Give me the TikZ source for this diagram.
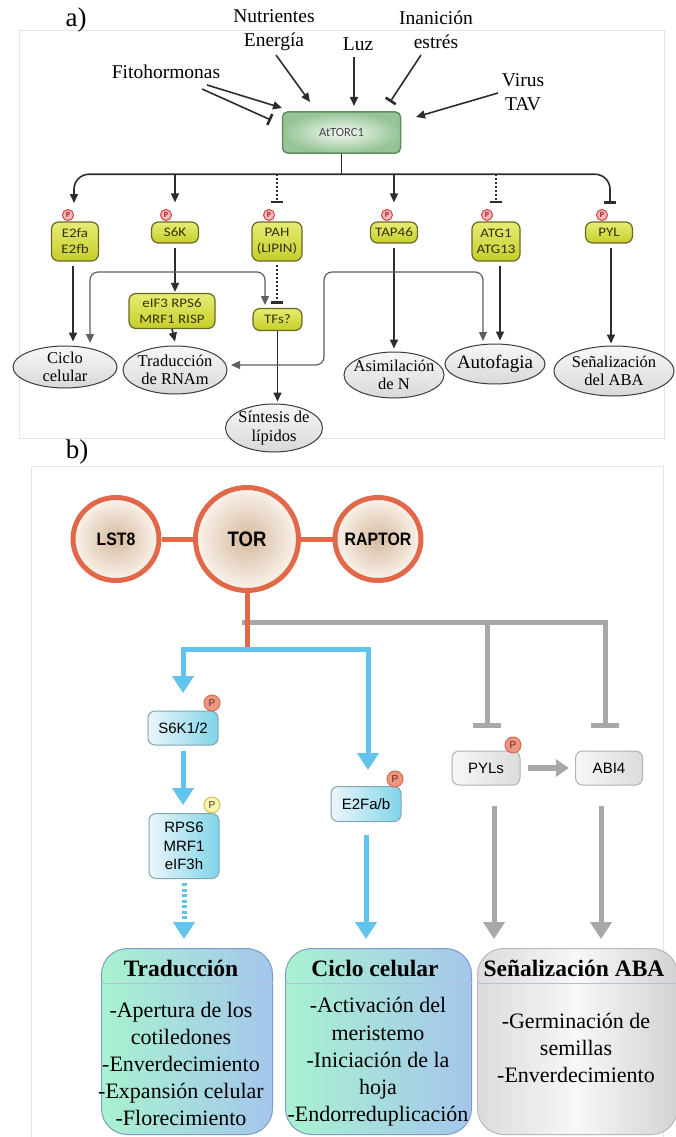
\documentclass[tikz,border=0pt]{standalone}
\usepackage{fontspec}
\setmainfont{Liberation Serif}
\setsansfont{Liberation Sans}
\newfontfamily\cali[FakeStretch=1.15]{Carlito}
\newfontfamily\calin{Carlito}
\newfontfamily\narsans[FakeStretch=0.88]{Liberation Sans}
\usetikzlibrary{arrows.meta,shapes.geometric}
\definecolor{dkc}{RGB}{45,45,45}
\definecolor{brc}{RGB}{95,95,95}
\definecolor{yd}{RGB}{105,105,35}
\definecolor{yl}{RGB}{230,236,115}
\definecolor{ym}{RGB}{198,206,42}
\definecolor{ytx}{RGB}{50,50,12}
\definecolor{pf}{RGB}{246,188,188}
\definecolor{pdc}{RGB}{212,64,64}
\definecolor{ptx}{RGB}{170,30,30}
\definecolor{ed}{RGB}{60,60,60}
\definecolor{tgd}{RGB}{95,145,95}
\definecolor{tgl}{RGB}{244,250,244}
\definecolor{tgo}{RGB}{150,196,150}
\definecolor{ttx}{RGB}{70,70,70}
\definecolor{orc}{RGB}{226,104,74}
\definecolor{bei}{RGB}{214,186,158}
\definecolor{beo}{RGB}{250,243,236}
\definecolor{gyl}{RGB}{168,168,168}
\definecolor{blc}{RGB}{98,196,236}
\definecolor{bbl}{RGB}{236,246,250}
\definecolor{bbr}{RGB}{128,212,232}
\definecolor{bbd}{RGB}{130,165,175}
\definecolor{cpf}{RGB}{238,150,128}
\definecolor{cpd}{RGB}{214,108,88}
\definecolor{pbt}{RGB}{90,40,30}
\definecolor{ypf}{RGB}{250,246,172}
\definecolor{ypd}{RGB}{205,195,95}
\definecolor{mint}{RGB}{168,242,208}
\definecolor{sky}{RGB}{165,198,236}
\definecolor{obd}{RGB}{125,155,195}
\definecolor{frmc}{RGB}{228,228,228}
\begin{document}
\begin{tikzpicture}[x=1pt,y=-1pt,
 lab/.style={align=center,inner sep=0pt,font=\fontsize{19.5}{24}\selectfont},
 dkl/.style={draw=dkc,line width=1.6pt},
 dsh/.style={draw=dkc,line width=1.2pt,dash pattern=on 2pt off 2pt},
 brk/.style={draw=brc,line width=1.2pt,rounded corners=8pt},
 arrA/.style={-{Triangle[length=9pt,width=8pt]}},
 barA/.style={-{Bar[width=12pt,line width=2.6pt]}},
 ybox/.style={rectangle,rounded corners=7pt,draw=yd,line width=1.2pt,top color=yl,bottom color=ym,minimum width=47pt,minimum height=21pt,inner sep=1pt,align=center,text=ytx,font=\cali\fontsize{13}{16}\selectfont},
 pa/.style={circle,inner sep=0pt,minimum size=11pt,fill=pf,draw=pdc,line width=1pt,text=ptx,font=\calin\bfseries\fontsize{8}{8}\selectfont},
 ell/.style={ellipse,draw=ed,line width=1pt,top color=gray!6,bottom color=gray!30,inner sep=0pt},
 etx/.style={align=center,inner sep=0pt,font=\fontsize{16.5}{18.5}\selectfont},
 torcs/.style={rectangle,rounded corners=5pt,draw=tgd,line width=1.5pt,inner color=tgl,outer color=tgo,minimum width=118pt,minimum height=41pt,text=ttx,font=\calin\fontsize{12.5}{13}\selectfont},
 frm/.style={draw=frmc,line width=0.8pt},
 ring/.style={ellipse,draw=orc,line width=5pt,inner color=bei,outer color=beo,inner sep=0pt},
 rtx/.style={inner sep=0pt,font=\narsans\bfseries\fontsize{18}{18}\selectfont},
 orl/.style={draw=orc,line width=5pt},
 gyline/.style={draw=gyl,line width=5pt,line join=miter},
 bll/.style={draw=blc,line width=5pt,line join=miter},
 arrB/.style={-{Triangle[length=17pt,width=21pt]}},
 barB/.style={-{Bar[width=28pt,line width=5pt]}},
 bbox/.style={rectangle,rounded corners=7pt,draw=bbd,line width=1pt,left color=bbl,right color=bbr,align=center,inner sep=2pt,font=\sffamily\fontsize{15}{18.5}\selectfont},
 gbox/.style={rectangle,rounded corners=7pt,draw=gray!60,line width=1pt,left color=gray!6,right color=gray!28,align=center,inner sep=2pt,font=\sffamily\fontsize{15}{18.5}\selectfont},
 pb/.style={circle,inner sep=0pt,minimum size=16pt,fill=cpf,draw=cpd,line width=1pt,text=pbt,font=\sffamily\fontsize{10}{10}\selectfont},
 pby/.style={pb,fill=ypf,draw=ypd},
 obox/.style={rectangle,rounded corners=26pt,draw=obd,line width=1pt,left color=mint,right color=sky,anchor=north west,minimum height=186pt},
 sobox/.style={rectangle,rounded corners=26pt,draw=gray!55,line width=1pt,left color=gray!28,right color=gray!35,middle color=gray!6,anchor=north west,minimum height=186pt},
 sepl/.style={draw=obd!60,line width=0.8pt},
 ttl/.style={inner sep=0pt,font=\bfseries\fontsize{23.5}{26}\selectfont},
 bdy/.style={align=center,inner sep=0pt,font=\fontsize{22}{27.2}\selectfont}
]
\useasboundingbox (0,0) rectangle (675,1137);
\fill[white] (0,0) rectangle (675,1137);

% ---------------- panel a ----------------
\draw[frm] (19,30) rectangle (664,438);
\node[inner sep=0pt,font=\fontsize{27}{27}\selectfont] (la) at (76,20) {a)};

\node[lab] (nut) at (274,30) {Nutrientes\\Energía};
\node[lab] (luz) at (358,44) {Luz};
\node[lab] (ina) at (436,30) {Inanición\\estrés};
\node[lab] (fito) at (166,72) {Fitohormonas};
\node[lab] (vir) at (523,92) {Virus\\TAV};

\node[torcs] (torc) at (341.5,132.5) {AtTORC1};

\coordinate (nutA) at (276,55);   \coordinate (nutB) at (310,102);
\coordinate (luzA) at (354,57);   \coordinate (luzB) at (354,106);
\coordinate (inaA) at (421,55);   \coordinate (inaB) at (390,102);
\coordinate (fiA) at (207,85);    \coordinate (fiB) at (282,108);
\coordinate (fjA) at (202,89);    \coordinate (fjB) at (271,120);
\coordinate (virA) at (498,93);   \coordinate (virB) at (416,117);
\draw[dkl,arrA] (nutA) -- (nutB);
\draw[dkl,arrA] (luzA) -- (luzB);
\draw[dkl,barA] (inaA) -- (inaB);
\draw[dkl,arrA] (fiA) -- (fiB);
\draw[dkl,barA] (fjA) -- (fjB);
\draw[dkl,arrA] (virA) -- (virB);

\node[ybox,minimum height=39pt] (e2) at (75,241.5) {E2fa\\E2fb};
\node[ybox] (s6k) at (175,232.5) {S6K};
\node[ybox,minimum height=39pt,minimum width=50pt] (pah) at (277,241.5) {PAH\\(LIPIN)};
\node[ybox] (tap) at (394,232.5) {TAP46};
\node[ybox,minimum height=39pt,minimum width=48pt] (atg) at (496,241.5) {ATG1\\ATG13};
\node[ybox] (pyl) at (609,232.5) {PYL};
\node[ybox,minimum width=86pt,minimum height=35pt] (eif) at (172,311) {eIF3 RPS6\\MRF1 RISP};
\node[ybox,minimum width=49pt,minimum height=22pt] (tfs) at (277.5,319.5) {TFs?};

\node[pa] (pe2) at (68,215) {P};
\node[pa] (ps6) at (166,215) {P};
\node[pa] (ppah) at (269,215) {P};
\node[pa] (ptap) at (387,215) {P};
\node[pa] (patg) at (487,215) {P};
\node[pa] (ppyl) at (602,215) {P};

\node[ell,minimum width=104pt,minimum height=42pt] (ciclo) at (65,367) {};
\node[etx] (cicloT) at (ciclo) {Ciclo\\celular};
\node[ell,minimum width=104pt,minimum height=48pt] (trad) at (175,370) {};
\node[etx] (tradT) at (trad) {Traducción\\de RNAm};
\node[ell,minimum width=97pt,minimum height=48pt] (sint) at (274,428) {};
\node[etx] (sintT) at (sint) {Síntesis de\\lípidos};
\node[ell,minimum width=100pt,minimum height=46pt] (asim) at (394,375) {};
\node[etx] (asimT) at (asim) {Asimilación\\de N};
\node[ell,minimum width=100pt,minimum height=40pt] (auto) at (495,364) {};
\node[etx,font=\fontsize{19}{20}\selectfont] (autoT) at (auto) {Autofagia};
\node[ell,minimum width=120pt,minimum height=50pt] (senal) at (614,371) {};
\node[etx] (senalT) at (senal) {Señalización\\del ABA};

% bus
\draw[dkl] (torc.south) -- ++(0,20.5) coordinate (bus);
\coordinate (e2tip) at (74,203);
\coordinate (pyltip) at (610,204);
\draw[dkl,rounded corners=15pt,{Triangle[length=9pt,width=8pt]}-{Bar[width=12pt,line width=2.6pt]}] (e2tip) -- (e2tip |- bus) -- (pyltip |- bus) -- (pyltip);
\draw[dkl,arrA] (s6k.north |- bus) -- ([yshift=19pt]s6k.north);
\draw[dsh,barA] (pah.north |- bus) -- ([yshift=18pt]pah.north);
\draw[dkl,arrA] (tap.north |- bus) -- ([yshift=19pt]tap.north);
\draw[dsh,barA] (atg.north |- bus) -- ([yshift=18pt]atg.north);

% lower links
\draw[dkl,arrA] ([xshift=-2pt,yshift=-4pt]e2.south) -- ([xshift=-2pt,yshift=4pt]e2.south |- ciclo.north);
\draw[dkl,arrA] ([yshift=-4pt]s6k.south) -- ([yshift=1pt]s6k.south |- eif.north);
\draw[dkl,arrA] (eif.south) -- ([xshift=3pt,yshift=4pt]eif.south |- trad.north);
\draw[dsh,barA] ([yshift=-3pt]pah.south) -- ([yshift=4pt]pah.south |- tfs.north);
\draw[dkl,arrA] (tfs.south) -- ([yshift=2pt]tfs.south |- sint.north);
\draw[dkl,arrA] ([yshift=-4pt]tap.south) -- ([yshift=3pt]tap.south |- asim.north);
\draw[dkl,arrA] ([xshift=4pt,yshift=-4pt]atg.south) -- ([xshift=4pt,yshift=3pt]atg.south |- auto.north);
\draw[dkl,arrA] ([xshift=2pt,yshift=-4pt]pyl.south) -- ([xshift=2pt,yshift=2pt]pyl.south |- senal.north);

\coordinate (bl0) at (90,343); \coordinate (bl1) at (90,272);
\coordinate (bl2) at (265,272); \coordinate (bl3) at (265,305);
\draw[brk,{Triangle[length=9pt,width=8pt]}-{Triangle[length=9pt,width=8pt]}] (bl0) -- (bl1) -- (bl2) -- (bl3);
\coordinate (br0) at (231,365); \coordinate (br1) at (324,365);
\coordinate (br2) at (324,272); \coordinate (br3) at (483,272);
\coordinate (br4) at (483,341);
\draw[brk,{Triangle[length=9pt,width=8pt]}-{Triangle[length=9pt,width=8pt]}] (br0) -- (br1) -- (br2) -- (br3) -- (br4);

% ---------------- panel b ----------------
\draw[frm] (31,466) rectangle (663,1150);
\node[inner sep=0pt,font=\fontsize{27}{27}\selectfont] (lb) at (77,452) {b)};

\node[ring,minimum width=86pt,minimum height=83pt] (lst) at (116,539) {};
\node[rtx] (lstT) at (lst) {LST8};
\node[ring,minimum width=103pt,minimum height=103pt] (tor) at (247,539) {};
\node[rtx,font=\narsans\bfseries\fontsize{21}{21}\selectfont] (torT) at (tor) {TOR};
\node[ring,minimum width=86pt,minimum height=83pt] (rap) at (378,539) {};
\node[rtx] (rapT) at (rap) {RAPTOR};
\draw[orl] (lst.east) -- (tor.west);
\draw[orl] (tor.east) -- (rap.west);

\coordinate (g0) at (242,622); \coordinate (g1) at (605,622);
\coordinate (gT1) at (605,728); \coordinate (g2) at (487,622);
\coordinate (gT2) at (487,728);
\draw[gyline,barB] (g0) -- (g1) -- (gT1);
\draw[gyline,barB] (g2) -- (gT2);

\coordinate (bj) at (247,649);
\coordinate (bjL) at (183,649); \coordinate (bjR) at (368,649);
\coordinate (s6tip) at (183,693); \coordinate (e2tipb) at (368,770);
\draw[orl] (tor.south) -- (bj);
\draw[bll,{Triangle[length=17pt,width=21pt]}-{Triangle[length=17pt,width=21pt]}] (s6tip) -- (bjL) -- (bjR) -- (e2tipb);

\node[bbox,minimum width=70pt,minimum height=34pt] (s6b) at (183,728) {S6K1/2};
\node[pb] (ps6b) at (212,703) {P};
\node[bbox,minimum width=70pt,minimum height=65pt] (rps) at (184,846) {RPS6\\MRF1\\eIF3h};
\node[pby] (prps) at (212,805) {P};
\node[bbox,minimum width=70pt,minimum height=35pt] (e2f) at (366,804) {E2Fa/b};
\node[pb] (pe2f) at (395,779) {P};
\node[gbox,minimum width=68pt,minimum height=34pt] (pyls) at (486,768) {PYLs};
\node[pb] (ppyls) at (513,745) {P};
\node[gbox,minimum width=67pt,minimum height=34pt] (abi) at (609,768) {ABI4};

\node[obox,minimum width=171pt] (tbox) at (101,948) {};
\node[obox,minimum width=186pt] (cbox) at (285,948) {};
\node[sobox,minimum width=200pt] (sbox) at (477,948) {};
\coordinate (sepY) at (0,983);
\draw[sepl] (tbox.west |- sepY) -- (tbox.east |- sepY);
\draw[sepl] (cbox.west |- sepY) -- (cbox.east |- sepY);
\draw[sepl] (sbox.west |- sepY) -- (sbox.east |- sepY);

\draw[bll,arrB] ([yshift=-5pt]s6b.south) -- ([yshift=8pt]s6b.south |- rps.north);
\draw[bll,dash pattern=on 3pt off 2.5pt,arrB] ([yshift=-4pt]rps.south) -- ([yshift=9pt]rps.south |- tbox.north);
\draw[bll,arrB] ([yshift=-13pt]e2f.south) -- ([yshift=9pt]e2f.south |- cbox.north);
\draw[draw=gyl,line width=6pt,-{Triangle[length=13pt,width=17pt]}] ([xshift=7pt]pyls.east) -- ([xshift=-6pt]abi.west);
\draw[gyline,arrB] ([xshift=8pt,yshift=-20pt]pyls.south) -- ([xshift=8pt,yshift=9pt]pyls.south |- sbox.north);
\draw[gyline,arrB] ([xshift=-8pt,yshift=-20pt]abi.south) -- ([xshift=-8pt,yshift=9pt]abi.south |- sbox.north);

\node[ttl] (tT) at (181,968) {Traducción};
\node[ttl] (cT) at (375,968) {Ciclo celular};
\node[ttl] (sT) at (574,968) {Señalización ABA};
\node[bdy] (tB) at (181,1064) {-Apertura de los\\cotiledones\\-Enverdecimiento\\-Expansión celular\\-Florecimiento};
\node[bdy] (cB) at (378,1062) {-Activación del\\meristemo\\-Iniciación de la\\hoja\\-Endorreduplicación};
\node[bdy] (sB) at (576,1048) {-Germinación de\\semillas\\-Enverdecimiento};
\end{tikzpicture}
\end{document}
